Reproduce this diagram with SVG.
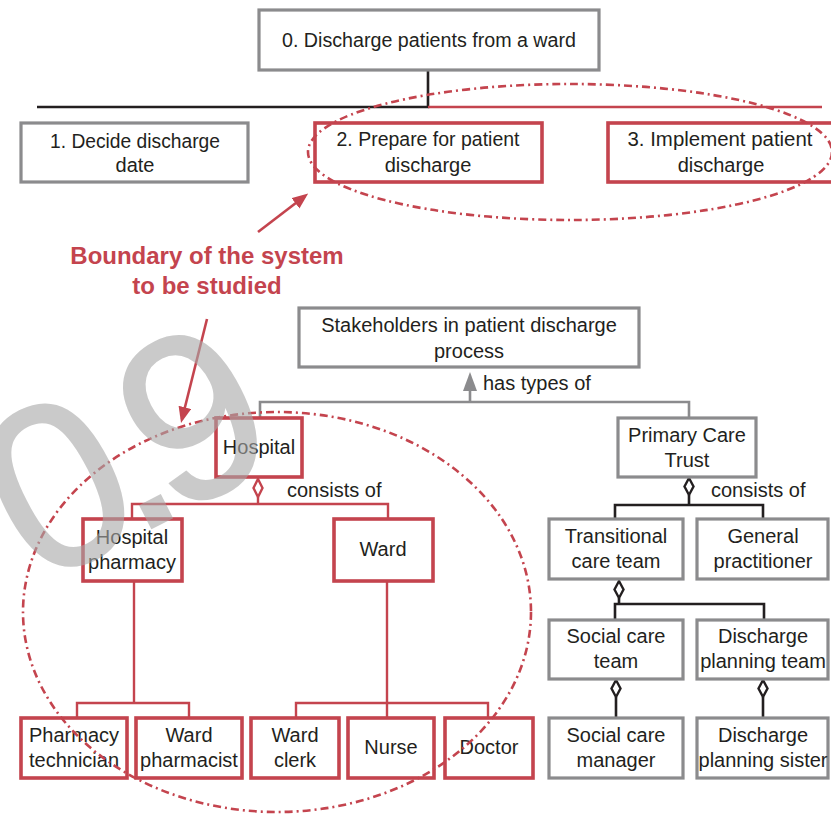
<svg xmlns="http://www.w3.org/2000/svg" width="831" height="815" viewBox="0 0 831 815">
  <style>
    text { font-family: "Liberation Sans", Arial, sans-serif; font-size: 20px; fill: #231f20; }
    .c { text-anchor: middle; }
    .box-g { fill: #ffffff; stroke: #8b8b8d; stroke-width: 3.2; }
    .box-r { fill: #ffffff; stroke: #c4444e; stroke-width: 3.6; }
    .ln-k { fill: none; stroke: #231f20; stroke-width: 2.6; }
    .ln-r { fill: none; stroke: #c4444e; stroke-width: 2.4; }
    .ln-g { fill: none; stroke: #8b8b8d; stroke-width: 2.6; }
    .dia-k { fill: #ffffff; stroke: #231f20; stroke-width: 2.4; }
    .dia-r { fill: #ffffff; stroke: #c4444e; stroke-width: 2.4; }
    .boundary { fill: none; stroke: #c4444e; stroke-width: 2.6; stroke-dasharray: 8 4 2 4; }
    .note { font-weight: bold; font-size: 24px; fill: #c4444e; text-anchor: middle; }
    .pointer { stroke: #c4444e; stroke-width: 2.6; fill: none; }
  </style>
  <defs>
    <marker id="head-red" markerUnits="userSpaceOnUse" markerWidth="16" markerHeight="14" refX="12" refY="6.5" orient="auto">
      <path d="M0,0 L16,6.5 L0,13 Z" fill="#c4444e"/>
    </marker>
  </defs>

  <rect width="831" height="815" fill="#ffffff"/>

  <!-- Process decomposition connectors -->
  <g id="process-connectors">
    <path class="ln-k" d="M428,70 V107 H37"/>
    <path class="ln-r" d="M428,107 H822"/>
  </g>

  <g id="p0">
    <rect class="box-g" x="259" y="10" width="340" height="60"/>
    <text class="c" x="429" y="47" textLength="294" lengthAdjust="spacingAndGlyphs">0. Discharge patients from a ward</text>
  </g>
  <g id="p1">
    <rect class="box-g" x="21" y="123" width="227" height="59"/>
    <text class="c" x="135" y="148" textLength="170" lengthAdjust="spacingAndGlyphs">1. Decide discharge</text>
    <text class="c" x="135" y="172">date</text>
  </g>
  <g id="p2">
    <rect class="box-r" x="315" y="123" width="227" height="59"/>
    <text class="c" x="428" y="146" textLength="183" lengthAdjust="spacingAndGlyphs">2. Prepare for patient</text>
    <text class="c" x="428" y="172">discharge</text>
  </g>
  <g id="p3">
    <rect class="box-r" x="608" y="123" width="230" height="59"/>
    <text class="c" x="720" y="146" textLength="185" lengthAdjust="spacingAndGlyphs">3. Implement patient</text>
    <text class="c" x="721" y="172">discharge</text>
  </g>

  <!-- Stakeholder hierarchy connectors -->
  <g id="connectors">
    <!-- generalisation -->
    <path class="ln-g" d="M260,417 V402 H689 V417"/>
    <path class="ln-g" d="M470,402 V388"/>
    <path d="M470,372 L477,391 L463,391 Z" fill="#8b8b8d"/>
    <!-- hospital aggregation -->
    <path class="ln-r" d="M258,497 V504"/>
    <path class="ln-r" d="M132,519 V504 H388 V519"/>
    <polygon class="dia-r" points="258,479 262.5,488 258,497 253.5,488"/>
    <path class="ln-r" d="M134,581 V703"/>
    <path class="ln-r" d="M77,718 V703 H189 V718"/>
    <path class="ln-r" d="M387,581 V718"/>
    <path class="ln-r" d="M296,718 V703 H488 V718"/>
    <!-- primary care trust aggregation -->
    <path class="ln-k" d="M689,495 V505"/>
    <path class="ln-k" d="M615,519 V505 H763 V519"/>
    <polygon class="dia-k" points="689,478 693.5,486.5 689,495 684.5,486.5"/>
    <path class="ln-k" d="M619,598 V604"/>
    <path class="ln-k" d="M615,620 V604 H764 V620"/>
    <polygon class="dia-k" points="619,581 623.5,589.5 619,598 614.5,589.5"/>
    <path class="ln-k" d="M616,697 V718"/>
    <polygon class="dia-k" points="616,680 620.5,688.5 616,697 611.5,688.5"/>
    <path class="ln-k" d="M763,697 V718"/>
    <polygon class="dia-k" points="763,680 767.5,688.5 763,697 758.5,688.5"/>
  </g>

  <text x="483" y="390">has types of</text>
  <text x="287" y="497">consists of</text>
  <text x="711" y="497">consists of</text>

  <g id="stakeholders">
    <rect class="box-g" x="299" y="308" width="340" height="59"/>
    <text class="c" x="469" y="332">Stakeholders in patient discharge</text>
    <text class="c" x="469" y="358">process</text>
  </g>
  <g id="hospital">
    <rect class="box-r" x="216" y="418" width="86" height="59"/>
    <text class="c" x="259" y="454">Hospital</text>
  </g>
  <g id="pct">
    <rect class="box-g" x="618" y="418" width="138" height="59"/>
    <text class="c" x="687" y="442">Primary Care</text>
    <text class="c" x="687" y="467">Trust</text>
  </g>
  <g id="hospital-pharmacy">
    <rect class="box-r" x="83" y="519" width="99" height="62"/>
    <text class="c" x="132" y="544">Hospital</text>
    <text class="c" x="132" y="569">pharmacy</text>
  </g>
  <g id="ward">
    <rect class="box-r" x="334" y="519" width="99" height="62"/>
    <text class="c" x="383" y="556">Ward</text>
  </g>
  <g id="pharmacy-technician">
    <rect class="box-r" x="21" y="718" width="106" height="60"/>
    <text class="c" x="74" y="742">Pharmacy</text>
    <text class="c" x="74" y="767">technician</text>
  </g>
  <g id="ward-pharmacist">
    <rect class="box-r" x="136" y="718" width="106" height="60"/>
    <text class="c" x="189" y="742">Ward</text>
    <text class="c" x="189" y="767">pharmacist</text>
  </g>
  <g id="ward-clerk">
    <rect class="box-r" x="251" y="718" width="88" height="60"/>
    <text class="c" x="295" y="742">Ward</text>
    <text class="c" x="295" y="767">clerk</text>
  </g>
  <g id="nurse">
    <rect class="box-r" x="348" y="718" width="86" height="60"/>
    <text class="c" x="391" y="754">Nurse</text>
  </g>
  <g id="doctor">
    <rect class="box-r" x="445" y="718" width="88" height="60"/>
    <text class="c" x="489" y="754">Doctor</text>
  </g>
  <g id="transitional-care-team">
    <rect class="box-g" x="549" y="519" width="134" height="60"/>
    <text class="c" x="616" y="543">Transitional</text>
    <text class="c" x="616" y="568">care team</text>
  </g>
  <g id="general-practitioner">
    <rect class="box-g" x="697" y="519" width="131" height="60"/>
    <text class="c" x="763" y="543">General</text>
    <text class="c" x="763" y="568">practitioner</text>
  </g>
  <g id="social-care-team">
    <rect class="box-g" x="549" y="620" width="134" height="59"/>
    <text class="c" x="616" y="643">Social care</text>
    <text class="c" x="616" y="668">team</text>
  </g>
  <g id="discharge-planning-team">
    <rect class="box-g" x="697" y="620" width="131" height="59"/>
    <text class="c" x="763" y="643">Discharge</text>
    <text class="c" x="763" y="668">planning team</text>
  </g>
  <g id="social-care-manager">
    <rect class="box-g" x="549" y="718" width="134" height="60"/>
    <text class="c" x="616" y="742">Social care</text>
    <text class="c" x="616" y="767">manager</text>
  </g>
  <g id="discharge-planning-sister">
    <rect class="box-g" x="697" y="718" width="131" height="60"/>
    <text class="c" x="763" y="742">Discharge</text>
    <text class="c" x="763" y="767">planning sister</text>
  </g>

  <!-- System boundary -->
  <g id="boundary">
    <ellipse class="boundary" cx="570" cy="152" rx="262" ry="68"/>
    <ellipse class="boundary" cx="277" cy="612" rx="254" ry="200"/>
    <line class="pointer" x1="258" y1="232" x2="305" y2="196" marker-end="url(#head-red)"/>
    <line class="pointer" x1="207" y1="319" x2="182" y2="419" marker-end="url(#head-red)"/>
    <text class="note" x="207" y="264">Boundary of the system</text>
    <text class="note" x="207" y="294">to be studied</text>
  </g>

  <!-- Version stamp -->
  <g opacity="0.6">
    <text transform="translate(36,587) rotate(-27)" x="0" y="0" style="font-size:235px; letter-spacing:-22px; fill:#a8a8a8; stroke:#a8a8a8; stroke-width:2;">0.9</text>
  </g>
</svg>
